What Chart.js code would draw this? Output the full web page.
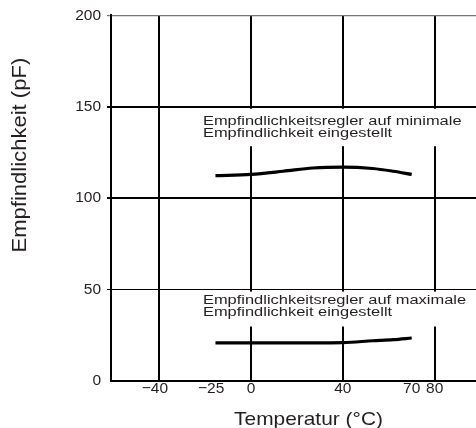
<!DOCTYPE html>
<html>
<head>
<meta charset="utf-8">
<script src="https://cdn.jsdelivr.net/npm/chart.js@4/dist/chart.umd.min.js"></script>
<style>
  html, body { margin: 0; padding: 0; background: #fff; }
  canvas { display: block; }
</style>
</head>
<body>
<canvas id="c" width="476" height="428"></canvas>
<script>
// ---- data ----
const xTemps        = [-25, 0, 14, 27, 40, 53, 62, 70];
const capMinSetting = [112.3, 113.0, 114.7, 116.5, 117.0, 116.2, 114.7, 113.0];
const capMaxSetting = [20.9, 20.9, 20.9, 20.9, 21.0, 22.0, 22.6, 23.5];
const xTickValues   = [-40, -25, 0, 40, 70, 80];
const xGridValues   = [-40, 0, 40, 80];
const yTickValues   = [0, 50, 100, 150, 200];
const labelMin      = ['Empfindlichkeitsregler auf minimale', 'Empfindlichkeit eingestellt'];
const labelMax      = ['Empfindlichkeitsregler auf maximale', 'Empfindlichkeit eingestellt'];
const xTitle        = 'Temperatur (°C)';
const yTitle        = 'Empfindlichkeit (pF)';

const TEXT = '#231f20';
const FONT = '"Liberation Sans", Arial, Helvetica, sans-serif';

// The original axis is not to scale between -40 and 0 (-25 sits close to 0).
function warp(v) {
  if (v <= -40 || v >= 0) return v;
  if (v <= -25) return -40 + (v + 40) * (24.5 / 15);
  return -15.5 + (v + 25) * (15.5 / 25);
}
function unwarp(u) {
  if (u <= -40 || u >= 0) return u;
  if (u <= -15.5) return -40 + (u + 40) * (15 / 24.5);
  return -25 + (u + 15.5) * (25 / 15.5);
}
class WarpScale extends Chart.LinearScale {
  getPixelForValue(v) { return super.getPixelForValue(warp(v)); }
  getValueForPixel(p) { return unwarp(super.getValueForPixel(p)); }
}
WarpScale.id = 'warp';
WarpScale.defaults = Chart.LinearScale.defaults;
Chart.register(WarpScale);

function stretchText(ctx, text, x, y, sx, align) {
  ctx.save();
  ctx.translate(x, y);
  ctx.scale(sx, 1);
  ctx.textAlign = align;
  ctx.textBaseline = 'alphabetic';
  ctx.fillText(text, 0, 0);
  ctx.restore();
}

const notes = [
  { lines: labelMin, base: [139.9, 133.2], boxTop: 150, boxBottom: 128.4 },
  { lines: labelMax, base: [42.2, 35.5],   boxTop: 50,  boxBottom: 29.8 }
];

const notesPlugin = {
  id: 'notes',
  beforeDatasetsDraw(chart) {
    const { ctx, chartArea, scales: { x, y } } = chart;
    const left = x.getPixelForValue(-25) - 15;
    const right = chartArea.right - 8;
    notes.forEach(n => {
      const top = y.getPixelForValue(n.boxTop) + 2;
      const bottom = y.getPixelForValue(n.boxBottom);
      ctx.save();
      ctx.fillStyle = '#fff';
      ctx.fillRect(left, top, right - left, bottom - top);
      ctx.fillStyle = TEXT;
      ctx.font = '12px ' + FONT;
      n.lines.forEach((t, i) => stretchText(ctx, t, left + 2.5, y.getPixelForValue(n.base[i]), 1.37, 'left'));
      ctx.restore();
    });
  },
  afterDraw(chart) {
    const { ctx, chartArea } = chart;
    ctx.save();
    ctx.fillStyle = TEXT;
    ctx.font = '19px ' + FONT;
    stretchText(ctx, xTitle, (chartArea.left + chartArea.right) / 2 + 15, chart.height - 3, 1.1, 'center');
    ctx.font = '21px ' + FONT;
    ctx.translate(chartArea.left - 85, (chartArea.top + chartArea.bottom) / 2 - 43);
    ctx.rotate(-Math.PI / 2);
    stretchText(ctx, yTitle, 0, 0, 1.05, 'center');
    ctx.restore();
  }
};

const mk = (vals) => xTemps.map((t, i) => ({ x: t, y: vals[i] }));

new Chart(document.getElementById('c'), {
  type: 'line',
  data: {
    datasets: [
      { data: mk(capMinSetting), borderColor: '#000', borderWidth: 3.2, pointRadius: 0, cubicInterpolationMode: 'monotone', fill: false },
      { data: mk(capMaxSetting), borderColor: '#000', borderWidth: 3.2, pointRadius: 0, cubicInterpolationMode: 'monotone', fill: false }
    ]
  },
  options: {
    responsive: false,
    animation: false,
    layout: { padding: { top: 15, right: 0, bottom: 0, left: 0 } },
    plugins: { legend: { display: false }, tooltip: { enabled: false }, title: { display: false } },
    scales: {
      x: {
        type: 'warp',
        min: -61, max: 98,
        afterFit: s => { s.height = 47; },
        afterBuildTicks: s => { s.ticks = xTickValues.map(v => ({ value: v })); },
        border: { display: true, color: '#000', width: 2 },
        grid: {
          drawTicks: false,
          color: '#000',
          lineWidth: c => (c.tick && xGridValues.includes(c.tick.value)) ? 2 : 0
        },
        ticks: {
          autoSkip: false, maxRotation: 0, padding: -2,
          color: TEXT, font: { family: FONT, size: 15.5 },
          callback: v => v < 0 ? '\u2212' + Math.abs(v) + '\u00a0\u00a0' : String(v)
        }
      },
      y: {
        type: 'linear',
        min: 0, max: 200,
        afterFit: s => { s.width = 111; },
        afterBuildTicks: s => { s.ticks = yTickValues.map(v => ({ value: v })); },
        border: { display: true, color: '#000', width: 2 },
        grid: {
          drawTicks: true, tickLength: 4,
          color: c => (c.tick && c.tick.value === 200) ? '#777' : '#000',
          lineWidth: c => {
            const v = c.tick ? c.tick.value : null;
            if (v === 100 || v === 150) return 2;
            if (v === 50) return 1;
            if (v === 200) return 1.2;
            return 0;
          }
        },
        ticks: { padding: 6, color: TEXT, font: { family: FONT, size: 15.5 } }
      }
    }
  },
  plugins: [notesPlugin]
});
</script>
</body>
</html>
